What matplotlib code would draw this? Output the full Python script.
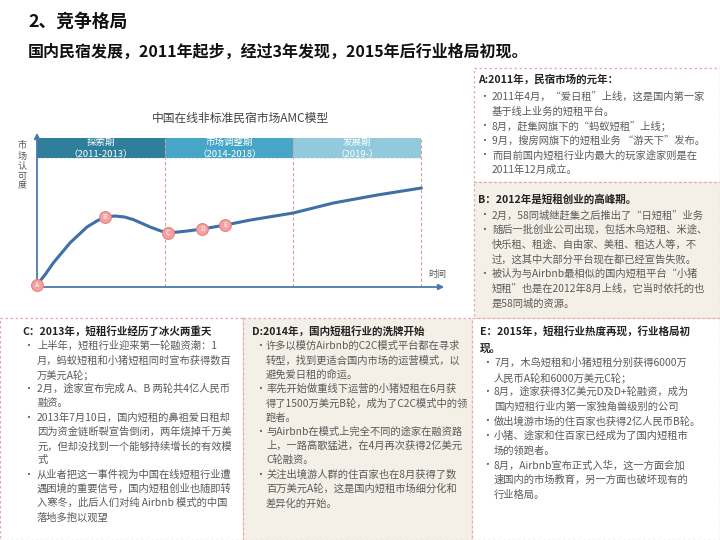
import matplotlib.pyplot as plt
from matplotlib.patches import Rectangle

plt.rcParams['font.family'] = ['Noto Sans CJK SC', 'DejaVu Sans']

# 曲线数据（时间，市场认可度）
curve_t = [0.0, 0.2, 0.38, 0.77, 1.17, 1.4, 1.59, 1.83, 2.05, 2.25, 2.65, 2.9, 3.07, 3.3, 3.52, 3.87,
           4.41, 5.0, 6.0, 6.94, 7.97, 9.0]
curve_y = [0.2, 1.3, 2.4, 4.4, 6.0, 6.6, 7.0, 7.1, 7.0, 6.75, 6.0, 5.6, 5.4, 5.5, 5.6, 5.8,
           6.2, 6.7, 7.4, 8.4, 9.2, 9.9]
point_labels = ["A", "B", "C", "D", "E"]
point_t = [0.0, 1.59, 3.07, 3.87, 4.41]
point_y = [0.2, 7.0, 5.4, 5.8, 6.2]

phase_names = ["探索期", "市场调整期", "发展期"]
phase_years = ["（2011-2013）", "（2014-2018）", "（2019-）"]
phase_start = [0, 3, 6]
phase_colors = ["#2f7f9c", "#47a6c7", "#93c9dc"]

title = "2、竞争格局"
subtitle = "国内民宿发展，2011年起步，经过3年发现，2015年后行业格局初现。"
chart_title = "中国在线非标准民宿市场AMC模型"

head_a = "A:2011年，民宿市场的元年："
items_a = [["2011年4月，“爱日租”上线，这是国内第一家", "基于线上业务的短租平台。"],
           ["8月，赶集网旗下的“蚂蚁短租”上线；"],
           ["9月，搜房网旗下的短租业务 “游天下”发布。"],
           ["而目前国内短租行业内最大的玩家途家则是在", "2011年12月成立。"]]
head_b = "B：2012年是短租创业的高峰期。"
items_b = [["2月，58同城继赶集之后推出了“日短租”业务"],
           ["随后一批创业公司出现，包括木鸟短租、米途、", "快乐租、租途、自由家、美租、租达人等，不",
            "过，这其中大部分平台现在都已经宣告失败。"],
           ["被认为与Airbnb最相似的国内短租平台“小猪", "短租”也是在2012年8月上线，它当时依托的也",
            "是58同城的资源。"]]
head_c = "C：2013年，短租行业经历了冰火两重天"
items_c = [["上半年，短租行业迎来第一轮融资潮：1", "月，蚂蚁短租和小猪短租同时宣布获得数百", "万美元A轮；"],
           ["2月，途家宣布完成 A、B 两轮共4亿人民币", "融资。"],
           ["2013年7月10日，国内短租的鼻祖爱日租却", "因为资金链断裂宣告倒闭，两年烧掉千万美",
            "元，但却没找到一个能够持续增长的有效模", "式"],
           ["从业者把这一事件视为中国在线短租行业遭", "遇困境的重要信号，国内短租创业也随即转",
            "入寒冬，此后人们对纯 Airbnb 模式的中国", "落地多抱以观望"]]
head_d = "D:2014年，国内短租行业的洗牌开始"
items_d = [["许多以模仿Airbnb的C2C模式平台都在寻求", "转型，找到更适合国内市场的运营模式，以", "避免爱日租的命运。"],
           ["率先开始做重线下运营的小猪短租在6月获", "得了1500万美元B轮，成为了C2C模式中的领", "跑者。"],
           ["与Airbnb在模式上完全不同的途家在融资路", "上，一路高歌猛进，在4月再次获得2亿美元", "C轮融资。"],
           ["关注出境游人群的住百家也在8月获得了数", "百万美元A轮，这是国内短租市场细分化和", "差异化的开始。"]]
head_e = "E：2015年，短租行业热度再现，行业格局初\n现。"
items_e = [["7月，木鸟短租和小猪短租分别获得6000万", "人民币A轮和6000万美元C轮；"],
           ["8月，途家获得3亿美元D及D+轮融资，成为", "国内短租行业内第一家独角兽级别的公司"],
           ["做出境游市场的住百家也获得2亿人民币B轮。"],
           ["小猪、途家和住百家已经成为了国内短租市", "场的领跑者。"],
           ["8月，Airbnb宣布正式入华，这一方面会加", "速国内的市场教育，另一方面也破坏现有的", "行业格局。"]]

fig = plt.figure(figsize=(7.2, 5.4), dpi=100)
bg = fig.add_axes([0, 0, 1, 1])
bg.set_xlim(0, 720)
bg.set_ylim(540, 0)
bg.axis("off")

border = "#e6a9a9"
# 文本框背景
boxes = [(474, 68, 246, 114, "white"), (474, 182, 246, 136, "#f4f0e8"),
         (0, 318, 243, 222, "white"), (243, 318, 229, 222, "#f4f0e8"),
         (472, 318, 248, 222, "white")]
for x0, y0, w, h, c in boxes:
    bg.add_patch(Rectangle((x0, y0), w, h, facecolor=c, edgecolor=border,
                           linestyle=(0, (2, 2)), linewidth=0.9))

bg.text(28, 22, title, fontsize=12.8, fontweight="bold", color="#111", va="center")
bg.text(28, 52, subtitle, fontsize=11.5, fontweight="bold", color="#111", va="center")
bg.text(240, 118, chart_title, fontsize=8.5, color="#444", ha="center", va="center")


def draw_box(head, items, x, bx, tx, y_head, y_first, step):
    bg.text(x, y_head, head, fontsize=7.6, fontweight="bold", color="#222",
            va="center", linespacing=1.9)
    y = y_first
    for item in items:
        bg.text(bx, y, "•", fontsize=7, color="#555", va="center")
        for line in item:
            bg.text(tx, y, line, fontsize=7.4, color="#5a5a5a", va="center")
            y += step


draw_box(head_a, items_a, 478, 479, 492, 80, 97, 14.6)
draw_box(head_b, items_b, 478, 479, 492, 199, 215, 14.7)
draw_box(head_c, items_c, 22, 23, 37, 331, 346, 14.3)
draw_box(head_d, items_d, 252, 255, 266, 331, 346, 14.3)
draw_box(head_e, items_e, 480, 482, 494, 340, 363, 14.6)

# AMC 模型图
ax = fig.add_axes([37 / 720, 1 - 287 / 540, 410 / 720, 157 / 540])
ax.set_xlim(0, 9.6)
ax.set_ylim(0, 15.7)
for s in ax.spines.values():
    s.set_visible(False)
ax.set_xticks([])
ax.set_yticks([])
ax.patch.set_alpha(0)

axis_c = "#4a78aa"
ax.annotate("", xy=(1, 0), xytext=(0, 0), xycoords="axes fraction",
            arrowprops=dict(arrowstyle="-|>", color=axis_c, lw=1.3, mutation_scale=8))
ax.annotate("", xy=(0, 1), xytext=(0, 0), xycoords="axes fraction",
            arrowprops=dict(arrowstyle="-|>", color=axis_c, lw=1.3, mutation_scale=8))

for i in range(3):
    x0 = phase_start[i]
    ax.add_patch(Rectangle((x0, 12.9), 3, 2.0, facecolor=phase_colors[i], edgecolor="none"))
    ax.plot([x0, x0 + 3], [12.9, 12.9], color="#d8e8ee", lw=0.8, ls=(0, (2, 2)))
    ax.text(x0 + 1.5, 14.45, phase_names[i], fontsize=6.8, color="white", ha="center", va="center")
    ax.text(x0 + 1.5, 13.35, phase_years[i], fontsize=6.8, color="white", ha="center", va="center")
    ax.plot([x0 + 3, x0 + 3], [0, 14.9], color="#e89a9a", lw=0.8, ls=(0, (3, 2)))

ax.plot(curve_t, curve_y, color="#3e6fa6", lw=2.2, solid_capstyle="round",
        solid_joinstyle="round", zorder=3)
for lab, t, y in zip(point_labels, point_t, point_y):
    ax.plot(t, y, "o", ms=8.5, mfc="#f3a2a2", mec="#e98080", mew=0.8, zorder=4, clip_on=False)
    ax.text(t, y, lab, fontsize=5, color="white", ha="center", va="center", zorder=5)

bg.text(22, 166, "市\n场\n认\n可\n度", fontsize=6.5, color="#555", ha="center", va="center",
        linespacing=1.15)
bg.text(437, 275, "时间", fontsize=6.5, color="#555", ha="center", va="center")

fig.savefig("out.png", dpi=100)
